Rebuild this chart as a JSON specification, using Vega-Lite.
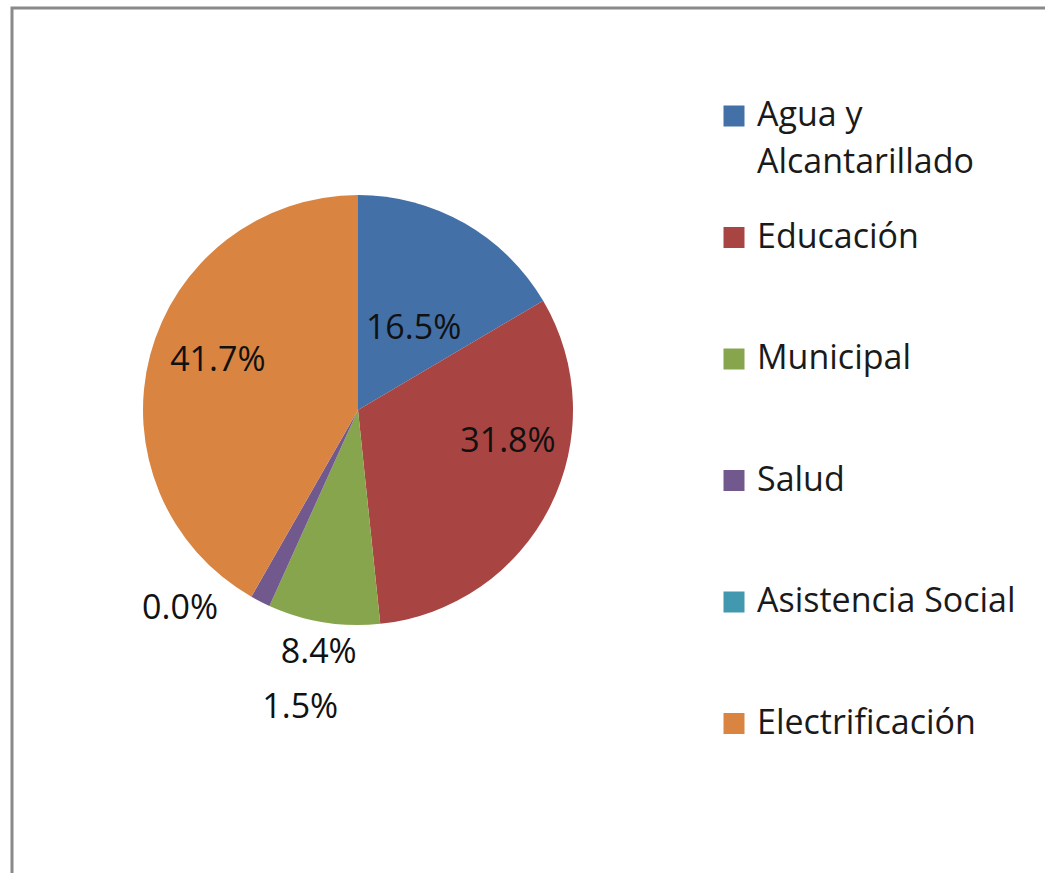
{
  "$schema": "https://vega.github.io/schema/vega-lite/v6.json",
  "width": 1040,
  "height": 870,
  "autosize": {"type": "none"},
  "padding": {"left": 12, "top": 8, "right": 0, "bottom": 0},
  "background": "white",
  "view": {"stroke": "#8a8a8a", "strokeWidth": 3, "fill": "white"},
  "config": {
    "font": "Open Sans",
    "style": {"guide-label": {"lineHeight": 47}}
  },
  "data": {
    "values": [
      {"sector": "Agua y Alcantarillado", "share": 0.165, "idx": 1},
      {"sector": "Educación", "share": 0.318, "idx": 2},
      {"sector": "Municipal", "share": 0.084, "idx": 3},
      {"sector": "Salud", "share": 0.015, "idx": 4},
      {"sector": "Asistencia Social", "share": 0.0, "idx": 5},
      {"sector": "Electrificación", "share": 0.417, "idx": 6}
    ]
  },
  "encoding": {
    "theta": {"field": "share", "type": "quantitative", "stack": true},
    "order": {"field": "idx", "type": "ordinal"},
    "color": {
      "field": "sector",
      "type": "nominal",
      "scale": {
        "domain": ["Agua y Alcantarillado", "Educación", "Municipal", "Salud", "Asistencia Social", "Electrificación"],
        "range": ["#4370a6", "#a84442", "#87a54c", "#71598e", "#4298ae", "#d98441"]
      },
      "legend": {
        "orient": "none",
        "legendX": 705,
        "legendY": 91,
        "title": null,
        "symbolType": "square",
        "symbolSize": 441,
        "symbolStrokeWidth": 0,
        "labelFontSize": 34,
        "labelFont": "Open Sans",
        "labelColor": "#1a1a1a",
        "labelOffset": 6,
        "labelLimit": 400,
        "rowPadding": 40.5,
        "gridAlign": "all",
        "padding": 0,
        "labelExpr": "datum.label == 'Agua y Alcantarillado' ? ['Agua y', 'Alcantarillado'] : datum.label"
      }
    }
  },
  "layer": [
    {
      "mark": {"type": "arc", "outerRadius": 215, "xOffset": -174, "yOffset": -33, "stroke": null}
    },
    {
      "mark": {"type": "text", "radius": 100, "fontSize": 34, "font": "Open Sans", "xOffset": -174, "yOffset": -33, "dx": 6, "dy": 6},
      "encoding": {
        "text": {"field": "share", "type": "quantitative", "format": ".1%"},
        "color": {"value": "#111111"},
        "opacity": {"condition": {"test": "datum.sector == 'Agua y Alcantarillado'", "value": 1}, "value": 0}
      }
    },
    {
      "mark": {"type": "text", "radius": 150, "fontSize": 34, "font": "Open Sans", "xOffset": -174, "yOffset": -33, "dx": 16, "dy": -36},
      "encoding": {
        "text": {"field": "share", "type": "quantitative", "format": ".1%"},
        "color": {"value": "#111111"},
        "opacity": {"condition": {"test": "datum.sector == 'Educación'", "value": 1}, "value": 0}
      }
    },
    {
      "mark": {"type": "text", "radius": 145, "fontSize": 34, "font": "Open Sans", "xOffset": -174, "yOffset": -33, "dy": -12},
      "encoding": {
        "text": {"field": "share", "type": "quantitative", "format": ".1%"},
        "color": {"value": "#111111"},
        "opacity": {"condition": {"test": "datum.sector == 'Electrificación'", "value": 1}, "value": 0}
      }
    },
    {
      "mark": {"type": "text", "radius": 246, "fontSize": 34, "font": "Open Sans", "xOffset": -174, "yOffset": -33},
      "encoding": {
        "text": {"field": "share", "type": "quantitative", "format": ".1%"},
        "color": {"value": "#111111"},
        "opacity": {"condition": {"test": "datum.sector == 'Municipal'", "value": 1}, "value": 0}
      }
    },
    {
      "mark": {"type": "text", "radius": 290, "fontSize": 34, "font": "Open Sans", "xOffset": -174, "yOffset": -33, "dx": 74, "dy": 40},
      "encoding": {
        "text": {"field": "share", "type": "quantitative", "format": ".1%"},
        "color": {"value": "#111111"},
        "opacity": {"condition": {"test": "datum.sector == 'Salud'", "value": 1}, "value": 0}
      }
    },
    {
      "mark": {"type": "text", "radius": 250, "fontSize": 34, "font": "Open Sans", "xOffset": -174, "yOffset": -33, "dx": -54, "dy": -18},
      "encoding": {
        "text": {"field": "share", "type": "quantitative", "format": ".1%"},
        "color": {"value": "#111111"},
        "opacity": {"condition": {"test": "datum.sector == 'Asistencia Social'", "value": 1}, "value": 0}
      }
    }
  ]
}
